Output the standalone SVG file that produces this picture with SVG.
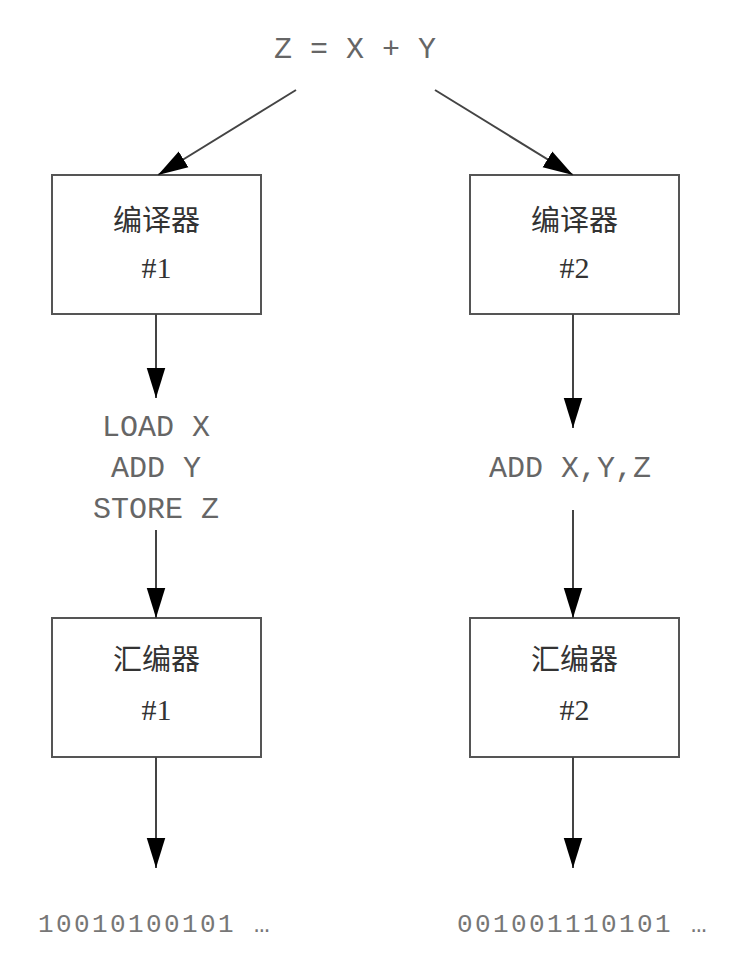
<svg xmlns="http://www.w3.org/2000/svg" width="754" height="974" viewBox="0 0 754 974">
<style>
.box{fill:#fff;stroke:#555;stroke-width:2}
.cn{font-family:"Noto Sans CJK SC",sans-serif;font-size:29px;fill:#333;text-anchor:middle}
.num{font-family:"Liberation Serif",serif;font-size:30px;fill:#333;text-anchor:middle}
.code{font-family:"Liberation Mono",monospace;font-size:30px;fill:#666;text-anchor:middle}
.bin{font-family:"Liberation Mono",monospace;font-size:26px;letter-spacing:2.4px;fill:#777}
.conn line{stroke:#444;stroke-width:2;marker-end:url(#ah)}
</style>
<defs>
<marker id="ah" markerUnits="userSpaceOnUse" markerWidth="30" markerHeight="20" viewBox="0 0 26 16" refX="26" refY="8" orient="auto">
<path d="M0,0 L26,8 L0,16 Z" fill="#000"/>
</marker>
</defs>
<rect width="754" height="974" fill="#fff"/>
<text class="code" x="355" y="58">Z = X + Y</text>
<g id="compiler1"><rect class="box" x="52" y="175" width="209" height="139"/><text class="cn" x="156.5" y="231">编译器</text><text class="num" x="156.5" y="278">#1</text></g>
<g id="compiler2"><rect class="box" x="470" y="175" width="209" height="139"/><text class="cn" x="574.5" y="231">编译器</text><text class="num" x="574.5" y="278">#2</text></g>
<g id="asm1code"><text class="code" x="156" y="436">LOAD X</text><text class="code" x="156" y="477">ADD Y</text><text class="code" x="156" y="518">STORE Z</text></g>
<g id="asm2code"><text class="code" x="570" y="477">ADD X,Y,Z</text></g>
<g id="assembler1"><rect class="box" x="52" y="618" width="209" height="139"/><text class="cn" x="156.5" y="670">汇编器</text><text class="num" x="156.5" y="720">#1</text></g>
<g id="assembler2"><rect class="box" x="470" y="618" width="209" height="139"/><text class="cn" x="574.5" y="670">汇编器</text><text class="num" x="574.5" y="720">#2</text></g>
<g id="out1"><text class="bin" x="38" y="932">10010100101 …</text></g>
<g id="out2"><text class="bin" x="457" y="932">001001110101 …</text></g>
<g class="conn" id="connectors">
<line x1="296" y1="90" x2="158" y2="175"/>
<line x1="435" y1="90" x2="573" y2="175"/>
<line x1="156" y1="314" x2="156" y2="398"/>
<line x1="573" y1="314" x2="573" y2="428"/>
<line x1="156" y1="530" x2="156" y2="618"/>
<line x1="573" y1="510" x2="573" y2="618"/>
<line x1="156" y1="757" x2="156" y2="868"/>
<line x1="573" y1="757" x2="573" y2="868"/>
</g>
</svg>
